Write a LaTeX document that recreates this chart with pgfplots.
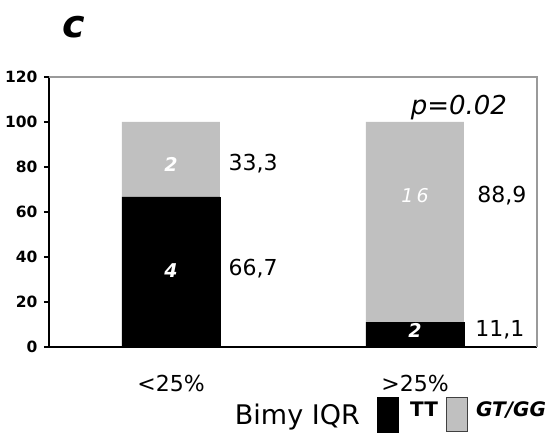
\documentclass[border=0pt]{standalone}
\usepackage{pgfplots}
\pgfplotsset{compat=1.18}
\usepackage{fontspec}
\setmainfont{DejaVu Sans}
\definecolor{barg}{HTML}{C0C0C0}
\definecolor{frameg}{HTML}{9A9A9A}
\begin{document}
\begin{tikzpicture}[x=1pt,y=1pt]
\path[use as bounding box] (0,0) rectangle (558,436);
\node[font=\fontsize{38}{38}\selectfont\bfseries\itshape] at (74,409) {c};
\begin{axis}[
  at={(49pt,89pt)}, anchor=south west,
  scale only axis, width=488pt, height=270pt,
  ymin=0, ymax=120, xmin=0.5, xmax=2.5,
  ybar stacked, bar width=98pt,
  ytick={0,20,...,120},
  xtick={1,2}, xticklabels={<25\%,>25\%},
  axis x line*=bottom, axis y line*=left,
  axis line style={line width=1.4pt, black},
  tick align=outside,
  major tick length=5pt,
  major y tick style={line width=1.2pt, black},
  major x tick style={draw=none},
  /pgf/number format/assume math mode=true,
  yticklabel style={font=\fontsize{15.5}{15.5}\selectfont\bfseries, xshift=-3pt},
  xticklabel style={font=\fontsize{22}{22}\selectfont, yshift=-20pt},
  clip=false,
  legend columns=-1,
  legend style={draw=none, fill=none, at={(rel axis cs:0.381,-0.185)}, anchor=north west,
    inner sep=0pt, outer sep=0pt, nodes={inner sep=0pt, anchor=west},
    /tikz/column 2/.style={column sep=17pt},
    /tikz/column 3/.style={column sep=12pt},
    /tikz/column 4/.style={column sep=8pt},
    /tikz/column 5/.style={column sep=8pt}},
  after end axis/.code={
    \draw[frameg, line width=1.4pt] (rel axis cs:0,1) -- (rel axis cs:1,1) -- (rel axis cs:1,0);
    \node[font=\fontsize{19}{19}\selectfont\bfseries\itshape, text=white] at (axis cs:1,81) {2};
    \node[font=\fontsize{19}{19}\selectfont\bfseries\itshape, text=white] at (axis cs:1,34) {4};
    \node[font=\fontsize{19}{19}\selectfont\itshape, text=white] at (axis cs:2,67.5) {1\,6};
    \node[font=\fontsize{19}{19}\selectfont\bfseries\itshape, text=white] at (axis cs:2,7.5) {2};
  },
]
\addlegendimage{empty legend}
\addlegendentry{\fontsize{27}{27}\selectfont Bimy IQR}
\addplot[fill=black, draw=black,
  legend image code/.code={\draw[fill=black, draw=black] (0pt,-17.5pt) rectangle (21pt,17.5pt);}]
  coordinates {(1,66.7) (2,11.1)};
\addlegendentry{\raisebox{10pt}{\fontsize{20}{20}\selectfont\bfseries TT}}
\addplot[fill=barg, draw=none,
  legend image code/.code={\draw[fill=barg, draw=black!75, line width=1.2pt] (0pt,-17pt) rectangle (21pt,17pt);}]
  coordinates {(1,33.3) (2,88.9)};
\addlegendentry{\raisebox{9pt}{\fontsize{20}{20}\selectfont\bfseries\itshape GT/GG}}
\node[font=\fontsize{22}{22}\selectfont, anchor=west, inner sep=0pt] at (axis cs:1.235,81.5) {33,3};
\node[font=\fontsize{22}{22}\selectfont, anchor=west, inner sep=0pt] at (axis cs:1.235,35) {66,7};
\node[font=\fontsize{22}{22}\selectfont, anchor=west, inner sep=0pt] at (axis cs:2.255,67.5) {88,9};
\node[font=\fontsize{22}{22}\selectfont, anchor=west, inner sep=0pt] at (axis cs:2.247,7.5) {11,1};
\node[font=\fontsize{26}{26}\selectfont\itshape] at (axis cs:2.18,106.5) {p=0.02};
\end{axis}
\end{tikzpicture}
\end{document}
